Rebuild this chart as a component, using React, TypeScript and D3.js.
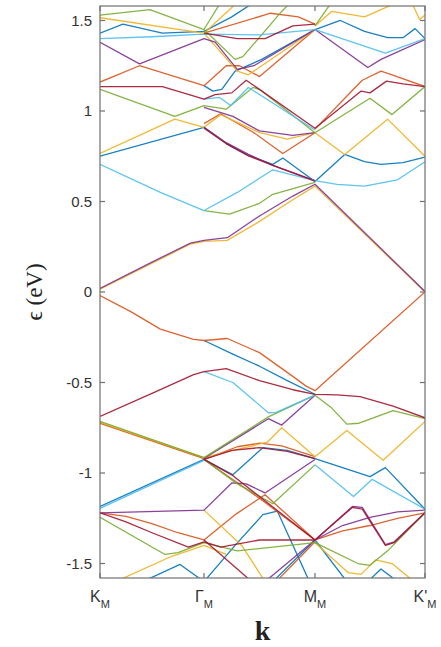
import React from "react";
import * as d3 from "d3";

type Pt = [number, number];

// Path coordinate: 0 = K_M, 1 = Γ_M, 2 = M_M, 3 = K'_M
const kTicks = [0, 1, 2, 3];
const kTickNames = ["K", "Γ", "M", "K'"];
const eTicks = [-1.5, -1, -0.5, 0, 0.5, 1, 1.5];
const eTickLabels = ["-1.5", "-1", "-0.5", "0", "0.5", "1", "1.5"];

const blueBands: Pt[][] = [
  [[0, -1.185], [1, -0.925]],
  [[1, -0.925], [1.26, -1.01], [1.53, -0.86], [1.75, -0.875], [2, -0.92], [2.5, -1.02], [2.64, -0.97], [3, -1.2]],
  [[1, -0.268], [1.25, -0.34], [1.5, -0.41], [1.75, -0.49], [2, -0.565]],
  [[0, 0.75], [1, 0.91], [1.2, 0.82], [1.4, 0.755], [1.62, 0.705], [1.71, 0.74], [2, 0.61], [2.27, 0.76], [2.45, 0.72], [2.6, 0.705], [2.8, 0.715], [3, 0.745]],
  [[0, 1.43], [0.22, 1.48], [0.6, 1.43], [1, 1.44], [1.25, 1.52], [1.45, 1.6]],
  [[1, 1.14], [1.08, 1.11], [1.16, 1.12], [1.28, 1.22], [1.52, 1.285], [2, 1.45], [2.23, 1.5], [2.45, 1.44], [2.66, 1.405], [2.8, 1.405], [2.91, 1.455], [3, 1.4]],
  [[0.41, -1.6], [0.77, -1.505], [1, -1.6]],
  [[1, -1.6], [1.28, -1.4], [1.53, -1.23], [1.66, -1.21], [1.95, -1.6]],
  [[1.62, -1.6], [2, -1.37], [2.29, -1.6]],
  [[2.48, -1.6], [2.6, -1.53], [2.75, -1.6]],
];

const orangeBands: Pt[][] = [
  [[0, -0.02], [0.3, -0.11], [0.58, -0.205], [0.9, -0.262], [1, -0.268], [1.21, -0.257], [1.5, -0.335], [1.8, -0.466], [1.92, -0.52], [2, -0.545], [3, 0.0]],
  [[0, 1.16], [0.38, 1.25], [1, 1.14], [1.2, 1.25], [1.32, 1.25], [1.5, 1.19], [2, 1.45]],
  [[1, 0.93], [1.15, 0.985], [1.45, 0.88], [1.71, 0.765], [2, 0.88]],
  [[2, 0.9], [2.35, 1.12], [2.43, 1.17], [2.6, 1.22], [2.7, 1.2], [3, 1.135]],
  [[1, 1.43], [1.6, 1.54], [1.85, 1.52], [2, 1.48]],
  [[0, -1.22], [0.25, -1.24], [0.5, -1.28], [0.75, -1.33], [1, -1.37], [1.28, -1.23], [1.55, -1.12], [2, -1.37]],
  [[1, -0.925], [1.3, -0.855], [1.5, -0.835], [1.7, -0.85], [2, -0.91]],
  [[1, -0.925], [1.5, -1.14], [2, -1.37]],
  [[2, -1.37], [2.25, -1.32], [2.5, -1.29], [2.75, -1.25], [3, -1.22]],
  [[0, -0.725], [1, -0.92]],
  [[1.65, -1.6], [2, -1.38]],
];

const yellowBands: Pt[][] = [
  [[0, 0.015], [0.87, 0.265], [1, 0.28], [1.21, 0.285], [1.5, 0.39], [1.8, 0.51], [2, 0.585], [3, 0.0]],
  [[0, 0.765], [0.72, 0.955], [1, 0.91], [1.15, 0.98], [1.5, 0.88], [1.75, 0.845], [2, 0.88], [2.27, 0.76], [2.66, 0.955], [3, 0.75]],
  [[0, 1.515], [1, 1.43], [1.3, 1.22], [1.4, 1.2], [2, 1.45]],
  [[1, 1.43], [1.3, 1.6]],
  [[2, 1.47], [2.15, 1.55], [2.45, 1.52], [2.75, 1.6]],
  [[2.88, 1.6], [2.95, 1.505], [3, 1.53]],
  [[0, -0.72], [1, -0.915], [1.3, -0.87], [1.57, -0.83], [1.7, -0.75], [2, -0.91], [2.29, -0.765], [2.62, -0.93], [3, -0.715]],
  [[1, -1.205], [1.34, -1.4], [1.55, -1.6]],
  [[0.15, -1.6], [0.69, -1.46], [1, -1.4], [1.2, -1.45]],
  [[2, -1.385], [2.3, -1.55], [2.42, -1.56], [2.55, -1.48], [2.7, -1.5], [2.9, -1.6]],
];

const purpleBands: Pt[][] = [
  [[0, 0.02], [0.5, 0.165], [0.87, 0.27], [1, 0.285], [1.21, 0.3], [1.5, 0.42], [1.8, 0.53], [2, 0.595], [3, 0.003]],
  [[1, 0.91], [1.2, 0.825], [1.4, 0.76], [1.62, 0.7], [2, 0.615]],
  [[1, 1.02], [1.26, 0.97], [1.5, 0.89], [1.8, 0.865], [2, 0.88]],
  [[0, 1.38], [0.38, 1.26], [1, 1.4], [1.1, 1.38], [1.3, 1.23], [1.45, 1.25], [2, 1.45], [2.48, 1.24], [2.6, 1.285], [3, 1.395]],
  [[1, -0.92], [1.58, -0.7], [1.7, -0.735], [2, -0.57]],
  [[0, -1.22], [1, -1.205], [1.25, -1.055], [1.38, -1.06], [1.55, -1.11], [2, -0.925]],
  [[2, -1.37], [2.34, -1.185], [2.43, -1.19], [2.64, -1.395], [2.72, -1.38], [3, -1.22]],
  [[2, -1.37], [2.25, -1.29], [2.5, -1.245], [2.75, -1.215], [3, -1.205]],
  [[1.55, -1.6], [2, -1.37]],
];

const greenBands: Pt[][] = [
  [[1, 0.45], [1.23, 0.43], [1.5, 0.49], [1.62, 0.54], [2, 0.605]],
  [[0, 1.12], [0.72, 0.97], [1, 1.03], [1.2, 1.01], [1.44, 1.13], [1.5, 1.12], [2, 0.88], [2.5, 1.07], [2.7, 0.98], [3, 1.135]],
  [[0, 1.53], [0.48, 1.56], [1, 1.45], [1.15, 1.6]],
  [[1, 1.45], [1.28, 1.285], [1.35, 1.3], [1.7, 1.55], [1.78, 1.6]],
  [[2, 1.47], [2.15, 1.6]],
  [[0, -0.715], [1, -0.915], [1.58, -0.69], [2, -0.57], [2.15, -0.64], [2.29, -0.73], [2.4, -0.725], [2.71, -0.655], [3, -0.7]],
  [[1, -0.925], [1.3, -1.06], [1.62, -1.17], [2, -0.955]],
  [[0, -1.245], [0.625, -1.45], [0.75, -1.44], [1, -1.385], [1.3, -1.43], [2, -1.385], [2.39, -1.5], [2.5, -1.51], [2.66, -1.43], [3, -1.22]],
];

const lightBlueBands: Pt[][] = [
  [[0, 0.705], [0.58, 0.55], [1, 0.45], [1.3, 0.55], [1.62, 0.675], [2, 0.615], [2.2, 0.595], [2.45, 0.585], [2.75, 0.62], [3, 0.72]],
  [[0, 1.4], [0.5, 1.41], [1, 1.425], [1.5, 1.42], [2, 1.45], [2.64, 1.32], [3, 1.4]],
  [[1, 1.065], [1.14, 1.075], [1.24, 1.03], [1.4, 1.13], [2, 0.895]],
  [[1, -0.44], [1.26, -0.5], [1.58, -0.667], [1.65, -0.665], [2, -0.57]],
  [[0, -1.195], [1, -0.93]],
  [[2, -0.955], [2.35, -1.13], [2.52, -1.035], [3, -1.2]],
];

const darkRedBands: Pt[][] = [
  [[0, -0.687], [0.5, -0.56], [0.9, -0.456], [1, -0.44], [1.2, -0.423], [1.5, -0.49], [1.8, -0.54], [2, -0.566], [2.2, -0.568], [2.41, -0.578], [2.71, -0.63], [3, -0.695]],
  [[0, 1.135], [0.6, 1.135], [1, 1.065], [1.1, 1.09], [1.25, 1.1], [1.38, 1.17], [2, 0.905], [2.42, 1.11], [2.5, 1.1], [2.65, 1.165], [2.8, 1.15], [3, 1.135]],
  [[1, 0.905], [1.2, 0.82], [1.4, 0.752], [1.62, 0.7], [2, 0.612]],
  [[1, 1.43], [1.3, 1.4], [1.55, 1.4], [1.8, 1.47], [2, 1.48]],
  [[1, -0.925], [1.25, -0.875], [1.5, -0.86], [1.75, -0.88], [2, -0.92]],
  [[0, -1.22], [0.25, -1.27], [0.5, -1.33], [0.85, -1.41], [1, -1.38], [1.15, -1.41], [1.5, -1.37], [2, -1.37]],
  [[1, -0.925], [1.25, -1.01], [1.5, -1.13], [1.75, -1.25], [2, -1.37]],
  [[2, -1.37], [2.34, -1.19], [2.43, -1.2], [2.64, -1.4], [2.72, -1.385], [3, -1.22]],
  [[1, -1.37], [1.43, -1.6]],
];

const bandGroups: { color: string; bands: Pt[][] }[] = [
  { color: "#0072BD", bands: blueBands },
  { color: "#D95319", bands: orangeBands },
  { color: "#EDB120", bands: yellowBands },
  { color: "#7E2F8E", bands: purpleBands },
  { color: "#77AC30", bands: greenBands },
  { color: "#4DBEEE", bands: lightBlueBands },
  { color: "#A2142F", bands: darkRedBands },
];

const W = 441;
const H = 647;
const left = 100;
const right = 425;
const top = 6;
const bottom = 578;

export default function App() {
  const x = d3.scaleLinear().domain(kTicks).range([100, 204, 315, 425]);
  const y = d3.scaleLinear().domain([-1.58, 1.58]).range([bottom, top]);
  const line = d3
    .line<Pt>()
    .x((d) => x(d[0]))
    .y((d) => y(d[1]))
    .curve(d3.curveLinear);

  const axisColor = "#707070";
  const tickLen = 5;

  return (
    <svg
      width={W}
      height={H}
      style={{ position: "absolute", left: 0, top: 0, background: "#fff" }}
    >
      <defs>
        <clipPath id="plot">
          <rect x={left} y={top} width={right - left} height={bottom - top} />
        </clipPath>
      </defs>
      <g clipPath="url(#plot)" fill="none" strokeWidth={1.3} strokeLinejoin="round">
        {bandGroups.map((g, gi) =>
          g.bands.map((b, bi) => (
            <path key={`${gi}-${bi}`} d={line(b) ?? ""} stroke={g.color} opacity={0.9} />
          ))
        )}
      </g>
      {/* frame */}
      <rect
        x={left}
        y={top}
        width={right - left}
        height={bottom - top}
        fill="none"
        stroke={axisColor}
        strokeWidth={1.2}
      />
      {/* energy ticks */}
      {eTicks.map((t, i) => (
        <g key={`e${i}`}>
          <line x1={left} x2={left + tickLen} y1={y(t)} y2={y(t)} stroke={axisColor} strokeWidth={1.2} />
          <line x1={right} x2={right - tickLen} y1={y(t)} y2={y(t)} stroke={axisColor} strokeWidth={1.2} />
          <text
            x={left - 8}
            y={y(t)}
            dy="0.36em"
            textAnchor="end"
            fontFamily="'Liberation Sans', Arial, sans-serif"
            fontSize={15}
            fill="#333"
          >
            {eTickLabels[i]}
          </text>
        </g>
      ))}
      {/* k ticks */}
      {kTicks.map((t, i) => (
        <g key={`k${i}`}>
          <line x1={x(t)} x2={x(t)} y1={bottom} y2={bottom - tickLen} stroke={axisColor} strokeWidth={1.2} />
          <line x1={x(t)} x2={x(t)} y1={top} y2={top + tickLen} stroke={axisColor} strokeWidth={1.2} />
          <text
            x={x(t)}
            y={602}
            textAnchor="middle"
            fontFamily="'Liberation Sans', Arial, sans-serif"
            fontSize={16}
            fill="#333"
          >
            {kTickNames[i]}
            <tspan fontSize={11} dy={6}>
              M
            </tspan>
          </text>
        </g>
      ))}
      <text
        x={(left + right) / 2}
        y={640}
        textAnchor="middle"
        fontFamily="'Liberation Serif', 'DejaVu Serif', serif"
        fontWeight="bold"
        fontSize={28}
        fill="#222"
      >
        k
      </text>
      <text
        transform={`translate(42, ${y(0)}) rotate(-90)`}
        textAnchor="middle"
        fontFamily="'Liberation Serif', 'DejaVu Serif', serif"
        fontSize={23}
        fill="#222"
      >
        ϵ (eV)
      </text>
    </svg>
  );
}
